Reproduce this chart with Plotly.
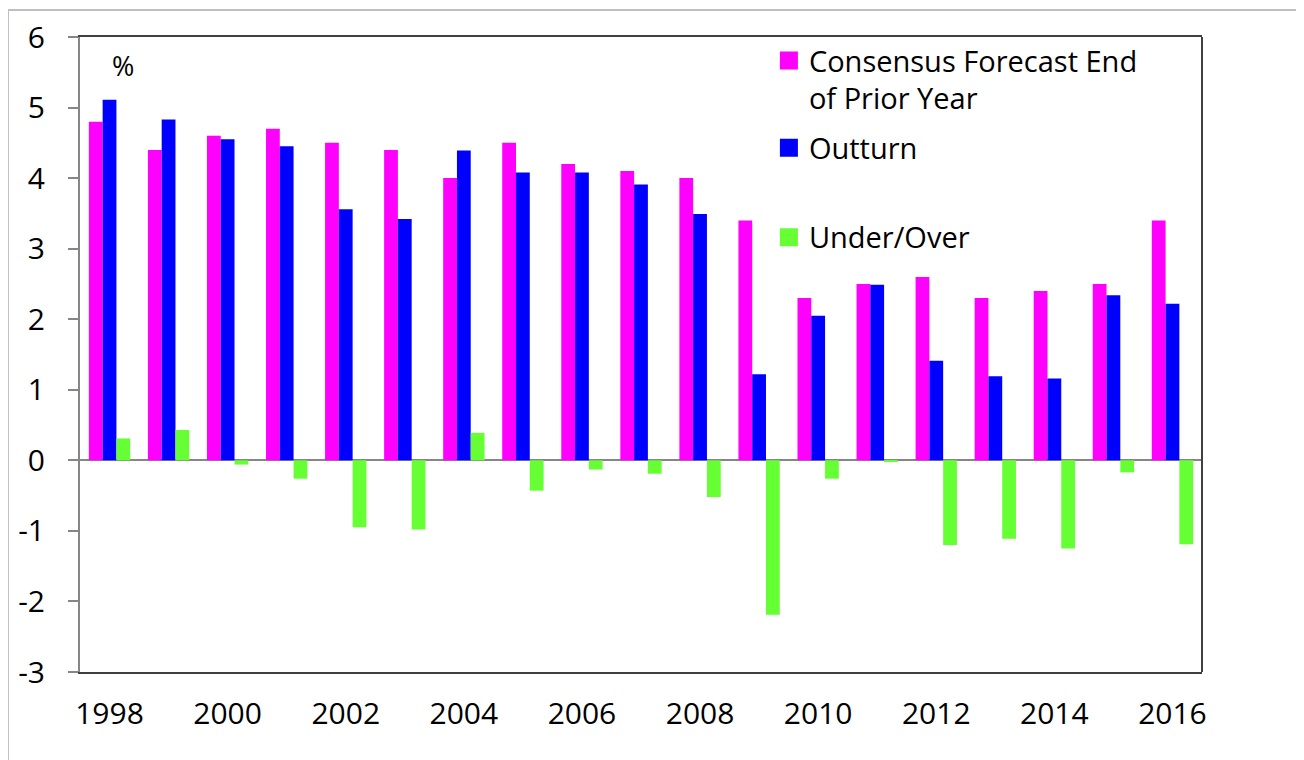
import plotly.graph_objects as go

# ---- data ----
years = ["1998", "1999", "2000", "2001", "2002", "2003", "2004", "2005", "2006", "2007",
         "2008", "2009", "2010", "2011", "2012", "2013", "2014", "2015", "2016"]
forecast = [4.8, 4.4, 4.6, 4.7, 4.5, 4.4, 4.0, 4.5, 4.2, 4.1,
            4.0, 3.4, 2.3, 2.5, 2.6, 2.3, 2.4, 2.5, 3.4]
outturn = [5.11, 4.83, 4.55, 4.45, 3.56, 3.42, 4.39, 4.08, 4.08, 3.91,
           3.49, 1.22, 2.05, 2.49, 1.41, 1.19, 1.16, 2.34, 2.22]
under_over = [0.31, 0.43, -0.06, -0.26, -0.95, -0.98, 0.39, -0.43, -0.13, -0.19,
              -0.52, -2.19, -0.26, -0.02, -1.20, -1.11, -1.25, -0.17, -1.19]

x_tick_values = ["1998", "2000", "2002", "2004", "2006", "2008", "2010", "2012", "2014", "2016"]
y_tick_values = [-3, -2, -1, 0, 1, 2, 3, 4, 5, 6]
y_tick_labels = ["-3", "-2", "-1", "0", "1", "2", "3", "4", "5", "6"]

series_names = ["Consensus Forecast End<br>of Prior Year", "Outturn", "Under/Over"]
series_colors = ["#FF00FF", "#0000FF", "#66FF33"]
series_values = [forecast, outturn, under_over]
series_legends = ["legend", "legend", "legend2"]

FONT = "Open Sans"

fig = go.Figure()
for i in range(3):
    fig.add_trace(go.Bar(x=years, y=series_values[i], name=series_names[i],
                         marker=dict(color=series_colors[i], line=dict(width=0)),
                         showlegend=False, legendgroup="g%d" % i))
# legend entries (larger square keys, as in the original)
for i in range(3):
    fig.add_trace(go.Scatter(x=[None], y=[None], mode="markers", name=series_names[i],
                             marker=dict(symbol="square", size=16, color=series_colors[i],
                                         line=dict(width=2, color=series_colors[i])),
                             legend=series_legends[i], legendgroup="g%d" % i,
                             hoverinfo="skip"))

fig.update_layout(
    width=1296, height=752,
    margin=dict(l=72, r=102, t=29, b=88, autoexpand=False),
    paper_bgcolor="white", plot_bgcolor="white",
    barmode="group", bargap=0.3, bargroupgap=0,
    font=dict(family=FONT, color="black", size=29),
    showlegend=True,
    legend=dict(x=0.614, y=1.0031, xanchor="left", yanchor="top",
                bgcolor="rgba(0,0,0,0)", font=dict(size=29, family=FONT),
                tracegroupgap=9, valign="top", traceorder="grouped",
                itemsizing="trace"),
    legend2=dict(x=0.614, y=0.7247, xanchor="left", yanchor="top",
                 bgcolor="rgba(0,0,0,0)", font=dict(size=29, family=FONT),
                 valign="top", itemsizing="trace"),
    xaxis=dict(type="category", tickmode="array", tickvals=x_tick_values,
               ticks="", showline=True, linecolor="#404040", linewidth=2,
               mirror=True, showgrid=False, zeroline=False, automargin=False,
               ticklabelstandoff=14, tickfont=dict(size=30, family=FONT)),
    yaxis=dict(range=[-3, 6], tickmode="array", tickvals=y_tick_values,
               ticktext=y_tick_labels, ticks="outside", ticklen=10,
               tickcolor="#868686", tickwidth=2, showline=True,
               linecolor="#868686", linewidth=2, showgrid=False,
               zeroline=True, zerolinecolor="#868686", zerolinewidth=2,
               automargin=False,
               ticklabelstandoff=17, tickfont=dict(size=30, family=FONT)),
)

# right border of the plot area (dark) and the outer chart frame (light grey)
fig.add_shape(type="line", xref="paper", yref="paper", x0=1, x1=1, y0=0, y1=1,
              line=dict(color="#404040", width=2))
fig.add_shape(type="rect", xref="paper", yref="paper",
              x0=-0.0642, x1=1.0891, y0=-0.2, y1=1.0425,
              line=dict(color="#BFBFBF", width=2), layer="below")

fig.add_annotation(text="%", xref="paper", yref="paper", x=0.0385, y=0.955,
                   showarrow=False, font=dict(size=27, family=FONT),
                   xanchor="center", yanchor="middle")

fig.write_html("out.html")
